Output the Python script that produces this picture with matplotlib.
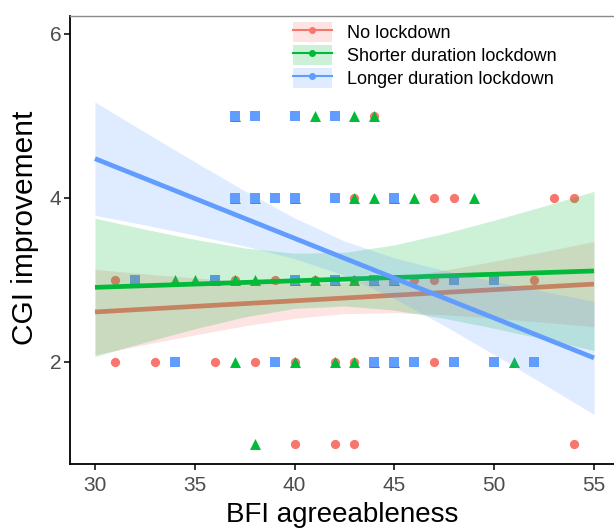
import numpy as np
import matplotlib
matplotlib.use("Agg")
from matplotlib import pyplot as plt
from matplotlib.patches import Patch
from matplotlib.lines import Line2D

plt.rcParams['font.family'] = ['Liberation Sans', 'DejaVu Sans']

# group names and colours (ggplot hue palette)
groups = ["No lockdown", "Shorter duration lockdown", "Longer duration lockdown"]
colors = ["#F8766D", "#00BA38", "#619CFF"]
markers = ["o", "^", "s"]

# observed points (BFI agreeableness, CGI improvement)
red_x = [44, 37, 43, 47, 48, 53, 54, 31, 37, 39, 41, 43, 46, 47, 52,
         31, 33, 36, 38, 40, 42, 43, 47, 40, 42, 43, 54]
red_y = [5, 4, 4, 4, 4, 4, 4, 3, 3, 3, 3, 3, 3, 3, 3,
         2, 2, 2, 2, 2, 2, 2, 2, 1, 1, 1, 1]
green_x = [37, 41, 43, 44, 37, 38, 40, 43, 44, 45, 46, 49,
           34, 35, 36, 37, 38, 40, 41, 42, 43, 44, 45,
           37, 40, 42, 43, 44, 45, 51, 38]
green_y = [5, 5, 5, 5, 4, 4, 4, 4, 4, 4, 4, 4,
           3, 3, 3, 3, 3, 3, 3, 3, 3, 3, 3,
           2, 2, 2, 2, 2, 2, 2, 1]
blue_x = [37, 38, 40, 42, 37, 38, 39, 40, 42, 45,
          32, 36, 40, 42, 44, 45, 48, 50,
          34, 39, 44, 45, 46, 48, 50, 52]
blue_y = [5, 5, 5, 5, 4, 4, 4, 4, 4, 4,
          3, 3, 3, 3, 3, 3, 3, 3,
          2, 2, 2, 2, 2, 2, 2, 2]

# fitted lines with confidence bands
fit_x = [30, 32.5, 35, 37.5, 40, 42.5, 45, 47.5, 50, 52.5, 55]
red_fit = [2.61, 2.644, 2.678, 2.712, 2.746, 2.78, 2.814, 2.848, 2.882, 2.916, 2.95]
red_hi = [3.13, 3.075, 3.025, 2.983, 2.959, 2.97, 3.027, 3.119, 3.229, 3.347, 3.47]
red_lo = [2.09, 2.213, 2.331, 2.441, 2.533, 2.59, 2.601, 2.577, 2.535, 2.485, 2.43]
green_fit = [2.91, 2.93, 2.95, 2.97, 2.99, 3.01, 3.03, 3.05, 3.07, 3.09, 3.11]
green_hi = [3.753, 3.619, 3.495, 3.39, 3.326, 3.337, 3.428, 3.568, 3.729, 3.902, 4.08]
green_lo = [2.067, 2.241, 2.405, 2.55, 2.654, 2.683, 2.632, 2.532, 2.411, 2.278, 2.14]
blue_fit = [4.48, 4.237, 3.994, 3.751, 3.508, 3.265, 3.022, 2.779, 2.536, 2.293, 2.05]
blue_hi = [5.17, 4.803, 4.441, 4.087, 3.756, 3.475, 3.27, 3.115, 2.983, 2.859, 2.74]
blue_lo = [3.79, 3.671, 3.547, 3.415, 3.26, 3.055, 2.774, 2.443, 2.089, 1.727, 1.36]

xs = [red_x, green_x, blue_x]
ys = [red_y, green_y, blue_y]
fits = [(red_fit, red_lo, red_hi), (green_fit, green_lo, green_hi),
        (blue_fit, blue_lo, blue_hi)]

fig = plt.figure(figsize=(6.14, 5.29), dpi=100)
ax = fig.add_axes([70 / 614, 65 / 529, 1 - 70 / 614, (464 - 15.6) / 529])

# points first, then smooth layer on top (as ggplot does)
for px, py, c, m in zip(xs, ys, colors, markers):
    ax.scatter(px, py, color=c, marker=m, s=62 if m == "^" else 44,
               linewidths=0, zorder=2)

for (f, lo, hi), c in zip(fits, colors):
    ax.fill_between(fit_x, lo, hi, color=c, alpha=0.2, linewidth=0, zorder=3)
    ax.plot(fit_x, f, color=c, lw=3.4, solid_capstyle='butt', zorder=3)

ax.set_xlim(28.75, 56.0)
ax.set_ylim(0.756, 6.224)
ax.set_xticks([30, 35, 40, 45, 50, 55])
ax.set_yticks([2, 4, 6])

ax.spines["right"].set_visible(False)
ax.spines["top"].set_color("#8a8a8a")
ax.spines["top"].set_linewidth(1.0)
ax.spines["left"].set_linewidth(1.3)
ax.spines["bottom"].set_linewidth(1.3)
ax.tick_params(length=4.3, width=1.1, color="black", labelsize=15,
               labelcolor="#4D4D4D")
ax.tick_params(axis="x", pad=4)
ax.tick_params(axis="y", pad=2)

ax.set_xlabel("BFI agreeableness", fontsize=20)
ax.set_ylabel("CGI improvement", fontsize=21.5)
ax.xaxis.label.set_va("center")
ax.xaxis.set_label_coords(0.5, (464 - 515) / 448.4)
ax.yaxis.label.set_va("center")
ax.yaxis.set_label_coords((25 - 70) / 544, (464 - 227.5) / 448.4)

handles = []
for c in colors:
    handles.append((Patch(facecolor=c, alpha=0.2, linewidth=0),
                    Line2D([], [], color=c, lw=1.5, marker="o", markersize=4)))
ax.legend(handles, groups, loc="upper left", frameon=False, fontsize=13,
          bbox_to_anchor=(293 / 614, 1 - 22 / 529), bbox_transform=fig.transFigure,
          borderpad=0, borderaxespad=0, labelspacing=0.17, handlelength=2.15,
          handleheight=1.3, handletextpad=0.85)

plt.savefig("out.png", dpi=100)
